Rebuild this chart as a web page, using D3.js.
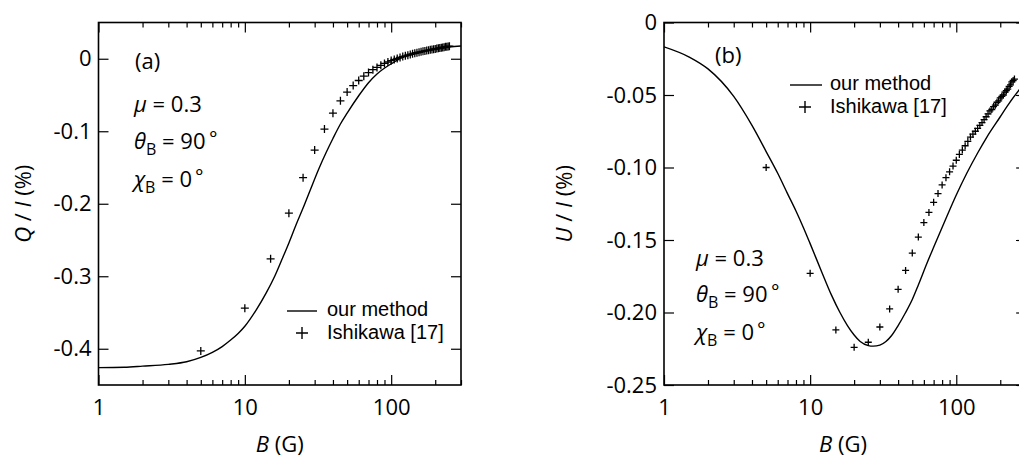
<!DOCTYPE html>
<html>
<head>
<meta charset="utf-8">
<script src="https://cdn.jsdelivr.net/npm/d3@7"></script>
<style>
  html, body { margin: 0; padding: 0; background: #fff; }
  svg { display: block; }
  text { font-family: "Open Sans", "Noto Sans", sans-serif; fill: #000; }
  text.legend { font-family: "Liberation Sans", Arial, sans-serif; }
</style>
</head>
<body>
<div id="chart"></div>
<script>
// ---------------- data ----------------
const xMajorTicks = [1, 10, 100];
const xTickLabels = ["1", "10", "100"];
const xMinorTicks = [2, 3, 4, 5, 6, 7, 8, 9, 20, 30, 40, 50, 60, 70, 80, 90, 200, 300];
const qTicks = [0, -0.1, -0.2, -0.3, -0.4];
const qTickLabels = ["0", "-0.1", "-0.2", "-0.3", "-0.4"];
const uTicks = [0, -0.05, -0.10, -0.15, -0.20, -0.25];
const uTickLabels = ["0", "-0.05", "-0.10", "-0.15", "-0.20", "-0.25"];

// panel (a): Q/I, our method
const qLineB = [1, 1.5, 2, 3, 4, 5, 6, 7, 8, 9, 10, 12, 14, 16, 18, 20, 22.5, 25, 28, 32, 36, 40, 45, 50, 60, 70, 80, 100, 120, 150, 200, 250, 300];
const qLine  = [-0.426, -0.4255, -0.424, -0.4215, -0.418, -0.412, -0.405, -0.397, -0.388, -0.379, -0.369, -0.346, -0.323, -0.300, -0.276, -0.254, -0.228, -0.206, -0.181, -0.152, -0.129, -0.110, -0.090, -0.075, -0.051, -0.033, -0.021, -0.007, 0.002, 0.008, 0.013, 0.016, 0.0175];

// Ishikawa [17] field values (shared by both panels)
const bIshi = [5, 10, 15, 20, 25, 30, 35, 40, 45, 50, 55, 60, 65, 70, 75, 80, 85, 90, 95, 100,
               105, 110, 115, 120, 125, 130, 135, 140, 145, 150, 155, 160, 165, 170, 175, 180, 185, 190, 195, 200,
               205, 210, 215, 220, 225, 230, 235, 240, 245, 250];
const qIshi = [-0.403, -0.344, -0.276, -0.213, -0.164, -0.126, -0.097, -0.075, -0.058, -0.046, -0.037, -0.030, -0.024, -0.019, -0.015, -0.012, -0.009, -0.0065, -0.0045, -0.0025,
               -0.001, 0.0005, 0.0018, 0.003, 0.004, 0.005, 0.006, 0.0068, 0.0076, 0.0083, 0.009, 0.0096, 0.0102, 0.0108, 0.0113, 0.0118, 0.0123, 0.0128, 0.0132, 0.0136,
               0.014, 0.0144, 0.0148, 0.0152, 0.0156, 0.016, 0.0164, 0.0167, 0.017, 0.0173];

// panel (b): U/I, our method
const uLineB = [1, 1.5, 2, 3, 4, 5, 6, 7, 8, 9, 10, 12, 14, 16, 18, 20, 22, 25, 27, 30, 33, 36, 40, 45, 50, 55, 63, 70, 86, 100, 118, 140, 162, 200, 222, 267, 300];
const uLine  = [-0.0168, -0.024, -0.032, -0.051, -0.071, -0.089, -0.104, -0.118, -0.130, -0.1415, -0.1525, -0.172, -0.188, -0.200, -0.209, -0.2155, -0.220, -0.2228, -0.2232, -0.2225, -0.220, -0.216, -0.209, -0.200, -0.191, -0.181, -0.166, -0.155, -0.134, -0.119, -0.104, -0.090, -0.079, -0.065, -0.058, -0.047, -0.041];
const uIshi = [-0.100, -0.173, -0.212, -0.224, -0.2205, -0.210, -0.1975, -0.184, -0.171, -0.159, -0.148, -0.138, -0.131, -0.124, -0.118, -0.112, -0.107, -0.103, -0.099, -0.095,
               -0.091, -0.088, -0.085, -0.082, -0.079, -0.077, -0.075, -0.073, -0.071, -0.069, -0.067, -0.065, -0.063, -0.061, -0.060, -0.058, -0.057, -0.055, -0.054, -0.052,
               -0.051, -0.050, -0.048, -0.047, -0.046, -0.044, -0.043, -0.041, -0.040, -0.039];

// ---------------- drawing ----------------
const W = 1019, H = 457;
const FS = 22;
const svg = d3.select("#chart").append("svg").attr("width", W).attr("height", H);

const panels = [
  { left: 98.5, right: 461, top: 22.5, bottom: 385, yDomain: [-0.45, 0.05],
    yTicks: qTicks, yLabels: qTickLabels, lineB: qLineB, lineV: qLine, ishi: qIshi,
    yTitle: ["Q", " / ", "I", " (%)"], yTitleX: 31, crossSize: 8,
    tag: "(a)", tagPos: [135, 69],
    params: { x: 134, y: [112, 149, 187] },
    legend: { x0: 287, x1: 317, y: 311, textX: 327, y1: 315.5, crossX: 302, crossY: 333, y2: 338.5 } },
  { left: 664, right: 1026, top: 22.5, bottom: 385, yDomain: [-0.25, 0],
    yTicks: uTicks, yLabels: uTickLabels, lineB: uLineB, lineV: uLine, ishi: uIshi,
    yTitle: ["U", " / ", "I", " (%)"], yTitleX: 572, crossSize: 7,
    tag: "(b)", tagPos: [715, 63],
    params: { x: 696, y: [266, 302, 340] },
    legend: { x0: 790, x1: 822, y: 85, textX: 830, y1: 89.5, crossX: 805, crossY: 107, y2: 112.5 } }
];

panels.forEach((p, i) => {
  const x = d3.scaleLog().domain([1, 300]).range([p.left, p.right]);
  const y = d3.scaleLinear().domain(p.yDomain).range([p.bottom, p.top]);
  const g = svg.append("g");

  const clipId = "clip" + i;
  g.append("clipPath").attr("id", clipId).append("rect")
    .attr("x", p.left).attr("y", p.top).attr("width", p.right - p.left).attr("height", p.bottom - p.top);

  // bottom axis: major ticks with labels
  const bot = g.append("g").attr("transform", `translate(0,${p.bottom})`)
    .call(d3.axisBottom(x).tickValues(xMajorTicks).tickFormat((d, k) => xTickLabels[k]).tickSize(-10).tickPadding(14));
  bot.select(".domain").remove();
  bot.selectAll("text").attr("font-size", FS).attr("font-family", null);
  bot.selectAll("line").attr("stroke", "#000").attr("stroke-width", 1.2);
  const botMinor = g.append("g").attr("transform", `translate(0,${p.bottom})`)
    .call(d3.axisBottom(x).tickValues(xMinorTicks).tickFormat("").tickSize(-5));
  botMinor.select(".domain").remove();
  botMinor.selectAll("line").attr("stroke", "#000").attr("stroke-width", 1.2);

  // top axis: ticks only
  [[xMajorTicks, 10], [xMinorTicks, 5]].forEach(([tv, s]) => {
    const t = g.append("g").attr("transform", `translate(0,${p.top})`)
      .call(d3.axisTop(x).tickValues(tv).tickFormat("").tickSize(-s));
    t.select(".domain").remove();
    t.selectAll("line").attr("stroke", "#000").attr("stroke-width", 1.2);
  });

  // left axis
  const la = g.append("g").attr("transform", `translate(${p.left},0)`)
    .call(d3.axisLeft(y).tickValues(p.yTicks).tickFormat((d, k) => p.yLabels[k]).tickSize(-10).tickPadding(7));
  la.select(".domain").remove();
  la.selectAll("text").attr("font-size", FS).attr("font-family", null);
  la.selectAll("line").attr("stroke", "#000").attr("stroke-width", 1.2);

  // right axis: ticks only
  const ra = g.append("g").attr("transform", `translate(${p.right},0)`)
    .call(d3.axisRight(y).tickValues(p.yTicks).tickFormat("").tickSize(-10));
  ra.select(".domain").remove();
  ra.selectAll("line").attr("stroke", "#000").attr("stroke-width", 1.2);

  // frame
  g.append("rect").attr("x", p.left).attr("y", p.top)
    .attr("width", p.right - p.left).attr("height", p.bottom - p.top)
    .attr("fill", "none").attr("stroke", "#000").attr("stroke-width", 1.6);

  // our method curve
  const line = d3.line().x(d => x(d[0])).y(d => y(d[1])).curve(d3.curveMonotoneX);
  g.append("path").datum(p.lineB.map((b, k) => [b, p.lineV[k]]))
    .attr("clip-path", `url(#${clipId})`)
    .attr("d", line).attr("fill", "none").attr("stroke", "#000").attr("stroke-width", 1.4);

  // Ishikawa crosses
  const s = p.crossSize / 2;
  g.append("g").attr("clip-path", `url(#${clipId})`)
    .selectAll("path").data(bIshi.map((b, k) => [b, p.ishi[k]])).join("path")
    .attr("d", d => `M${x(d[0]) - s},${y(d[1])}H${x(d[0]) + s}M${x(d[0])},${y(d[1]) - s}V${y(d[1]) + s}`)
    .attr("stroke", "#000").attr("stroke-width", 1.3).attr("fill", "none");

  // axis titles
  const xt = g.append("text").attr("x", (p.left + p.right) / 2 + (i === 1 ? -2 : 0)).attr("y", 452)
    .attr("text-anchor", "middle").attr("font-size", FS);
  xt.append("tspan").attr("font-style", "italic").text("B");
  xt.append("tspan").text(" (G)");

  const yt = g.append("text").attr("transform", `translate(${p.yTitleX},${(p.top + p.bottom) / 2}) rotate(-90)`)
    .attr("text-anchor", "middle").attr("font-size", FS);
  p.yTitle.forEach((t, k) => yt.append("tspan").attr("font-style", k % 2 === 0 ? "italic" : null).text(t));

  // panel tag
  g.append("text").attr("x", p.tagPos[0]).attr("y", p.tagPos[1]).attr("font-size", FS).text(p.tag);

  // parameter annotations
  const ann = [["μ", null, " = 0.3", false], ["θ", "B", " = 90", true], ["χ", "B", " = 0", true]];
  ann.forEach((a, k) => {
    const t = g.append("text").attr("x", p.params.x).attr("y", p.params.y[k]).attr("font-size", FS);
    t.append("tspan").attr("font-style", "italic").text(a[0]);
    if (a[1]) {
      t.append("tspan").attr("font-size", 16).attr("dy", 6).text(a[1]);
      t.append("tspan").attr("dy", -6).text(a[2]);
    } else {
      t.append("tspan").text(a[2]);
    }
    if (a[3]) t.append("tspan").attr("font-size", 20).attr("dy", -8).attr("dx", 1).text("∘");
  });

  // legend
  const L = p.legend;
  g.append("line").attr("x1", L.x0).attr("x2", L.x1).attr("y1", L.y).attr("y2", L.y)
    .attr("stroke", "#000").attr("stroke-width", 1.4);
  g.append("text").attr("class", "legend").attr("x", L.textX).attr("y", L.y1).attr("font-size", 20).text("our method");
  g.append("path").attr("d", `M${L.crossX - 6},${L.crossY}H${L.crossX + 6}M${L.crossX},${L.crossY - 6}V${L.crossY + 6}`)
    .attr("stroke", "#000").attr("stroke-width", 1.4);
  g.append("text").attr("class", "legend").attr("x", L.textX).attr("y", L.y2).attr("font-size", 20).text("Ishikawa [17]");
});
</script>
</body>
</html>
